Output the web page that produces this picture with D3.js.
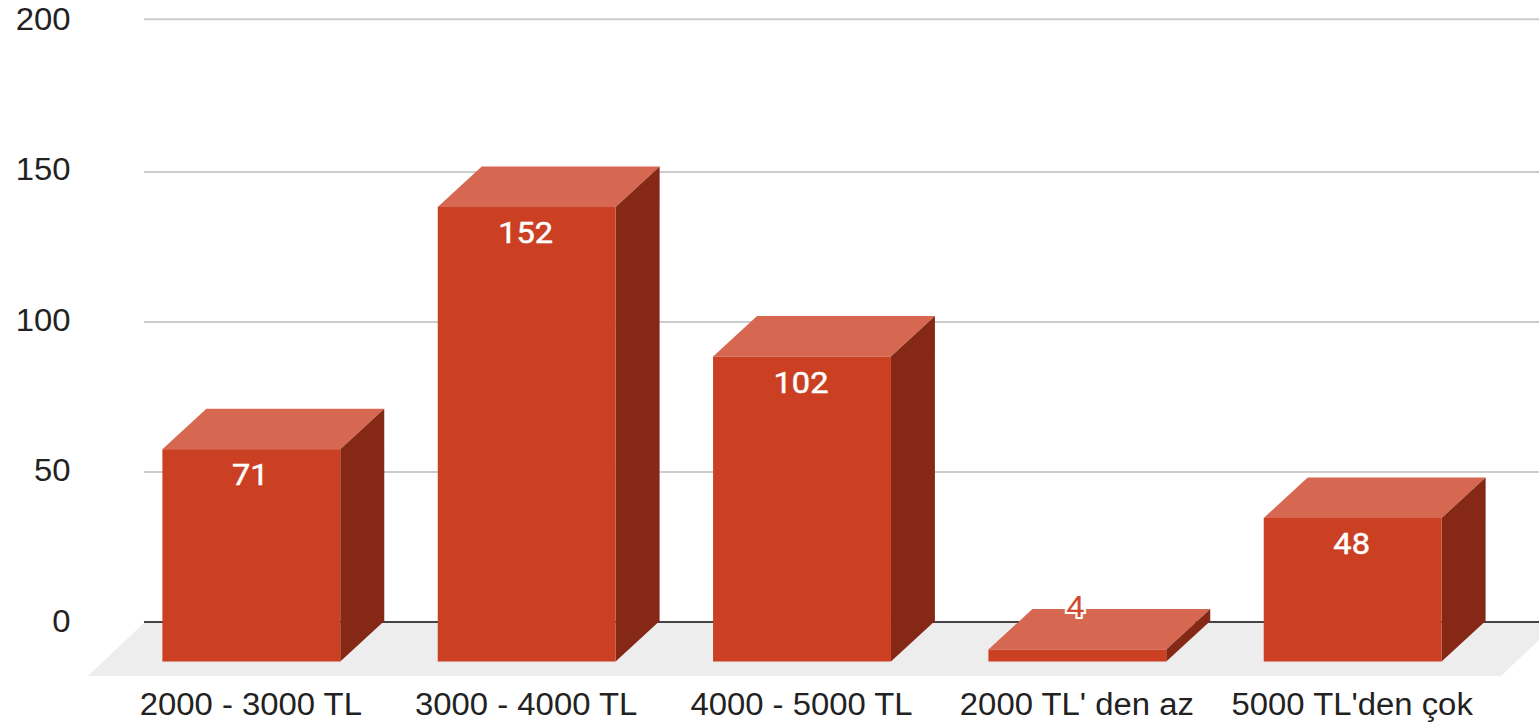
<!DOCTYPE html>
<html><head><meta charset="utf-8">
<script src="https://cdn.jsdelivr.net/npm/d3@7"></script>
<style>html,body{margin:0;padding:0;background:#fff}svg{display:block}</style>
</head><body><svg id="c" width="1539" height="723"></svg>
<script>
const categories = ["2000 - 3000 TL","3000 - 4000 TL","4000 - 5000 TL","2000 TL' den az","5000 TL'den çok"];
const values = [71,152,102,4,48];
const tickValues = [0,50,100,150,200];

const W=1539,dx=44,dy=40.5,sx=1.06;
const ARIAL="'Liberation Sans',Arial,sans-serif",ROBOTO="Roboto,Arial,sans-serif";
const svg=d3.select("#c");
const yGrid=d3.scaleLinear().domain([0,150,200]).range([622,172,19.3]);
const yTick=d3.scaleLinear().domain([0,200]).range([631.5,30]);
const yBar=d3.scaleLinear().domain([0,100]).range([661.5,362.5]);
const x=d3.scaleBand().domain(categories).range([162.4,1441.6]).paddingInner(0.354).paddingOuter(0);

svg.append("polygon").attr("points",[[88,676],[1501,676],[1558,622],[145,622]].join(" ")).attr("fill","#ededed");
svg.append("g").selectAll("line").data(tickValues).join("line")
  .attr("x1",144).attr("x2",W).attr("y1",d=>yGrid(d)).attr("y2",d=>yGrid(d))
  .attr("stroke",d=>d===0?"#444":"#ccc").attr("stroke-width",2);
svg.append("g").selectAll("text").data(tickValues).join("text")
  .attr("transform",d=>`translate(70.5,${yTick(d)}) scale(${sx},1)`).attr("text-anchor","end")
  .attr("font-family",ARIAL).attr("font-size",31).attr("fill","#222").text(d=>d);

const g=svg.append("g").selectAll("g").data(values).join("g");
const pts=a=>a.map(p=>p.join(",")).join(" ");
g.append("polygon").attr("fill","#d66851").attr("points",(d,i)=>{const l=x(categories[i]),r=l+x.bandwidth(),t=yBar(d);
  return pts([[l,t],[r,t],[r+dx,t-dy],[l+dx,t-dy]]);});
g.append("polygon").attr("fill","#852816").attr("points",(d,i)=>{const r=x(categories[i])+x.bandwidth(),t=yBar(d),b=yBar(0);
  return pts([[r,t],[r+dx,t-dy],[r+dx,b-dy],[r,b]]);});
g.append("rect").attr("fill","#cb3f23").attr("x",(d,i)=>x(categories[i])).attr("width",x.bandwidth())
  .attr("y",d=>yBar(d)).attr("height",d=>yBar(0)-yBar(d));
g.append("text").attr("text-anchor","middle").attr("font-family",ROBOTO).attr("font-size",30)
  .attr("transform",(d,i)=>`translate(${x(categories[i])+x.bandwidth()/2-(d<10?2:1)},${d<10?yBar(d)-33:yBar(d)+36}) scale(1.085,1)`)
  .attr("fill",d=>d<10?"#d2492e":"#fff")
  .attr("stroke",d=>d<10?"#fff":"#fff").attr("stroke-width",d=>d<10?4:0.5).attr("paint-order","stroke")
  .text(d=>d);
svg.append("g").selectAll("text").data(categories).join("text")
  .attr("transform",d=>`translate(${x(d)+x.bandwidth()/2-0.5},715) scale(${sx},1)`).attr("text-anchor","middle")
  .attr("font-family",ARIAL).attr("font-size",31).attr("fill","#222").text(d=>d);
</script></body></html>
